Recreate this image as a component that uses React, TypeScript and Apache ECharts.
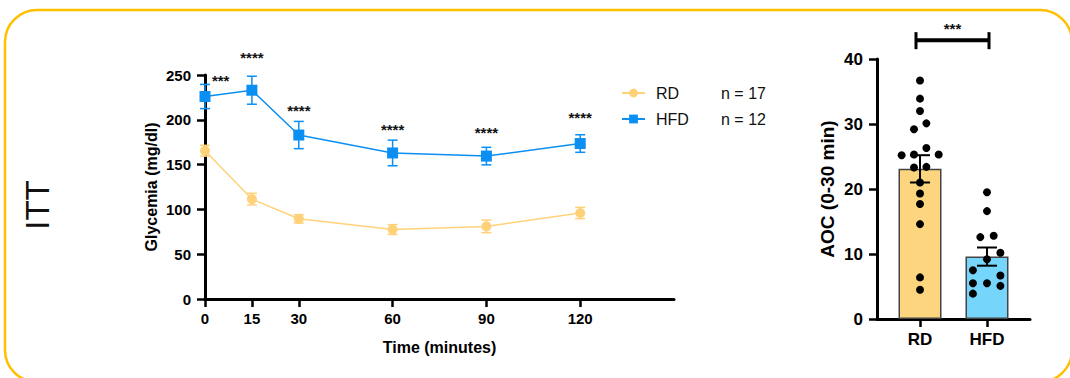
import React, { useEffect, useRef } from "react";
import * as echarts from "echarts";

// ---- ITT line chart data ----
const times = [0, 15, 30, 60, 90, 120];
const rdMean = [165.5, 111.5, 89.5, 77.5, 81, 96];
const rdSem = [6, 6.5, 4.7, 5.5, 7, 6.3];
const hfdMean = [226, 233, 183, 163, 159.5, 173.5];
const hfdSem = [13.5, 15.6, 15.2, 14.3, 9.8, 9.8];
const rdN = 17;
const hfdN = 12;
const starX = [5, 15, 30, 60, 90, 120];
const starY = [243.5, 269, 210.5, 189.5, 186, 202.5];
const starLabels = ["***", "****", "****", "****", "****", "****"];

// ---- AOC bar chart data ----
const barCategories = ["RD", "HFD"];
const barMeans = [23.1, 9.6];
const barSems = [2.1, 1.4];
const rdDots = [
  [0, 36.7], [0, 33.9], [0, 32.0], [0.095, 30.1], [-0.09, 29.2], [0.095, 26.3],
  [-0.274, 25.2], [-0.09, 25.3], [0.279, 25.3], [-0.09, 23.3], [0.095, 23.4],
  [0, 21.0], [0, 19.3], [0, 17.7], [0, 14.6], [0, 6.4], [0, 4.5],
];
const hfdDots = [
  [1, 19.5], [1, 16.6], [0.9, 12.6], [1.1, 12.8], [1.2, 10.2], [1, 9.2],
  [0.79, 7.5], [1.2, 6.7], [0.79, 5.5], [1, 5.5], [1.2, 5.1], [0.79, 3.9],
];
const barSig = "***";
const barSigLevel = 42.9;

const YELLOW = "#FFD27A";
const BLUE = "#0B8FF2";
const BAR_YELLOW = "#FDD57E";
const BAR_BLUE = "#76D5FB";
const FONT = "Liberation Sans, Arial, sans-serif";

function errRender(color: string, capHalf: number, lw: number) {
  return (params: any, api: any) => {
    const x = api.value(0);
    const m = api.value(1);
    const e = api.value(2);
    const t = api.coord([x, m + e]);
    const b = api.coord([x, m - e]);
    return {
      type: "group",
      children: [
        { type: "line", shape: { x1: t[0], y1: t[1], x2: b[0], y2: b[1] }, style: { stroke: color, lineWidth: lw } },
        { type: "line", shape: { x1: t[0] - capHalf, y1: t[1], x2: t[0] + capHalf, y2: t[1] }, style: { stroke: color, lineWidth: lw } },
        { type: "line", shape: { x1: b[0] - capHalf, y1: b[1], x2: b[0] + capHalf, y2: b[1] }, style: { stroke: color, lineWidth: lw } },
      ],
    };
  };
}

export default function App() {
  const ref = useRef<HTMLDivElement>(null);
  useEffect(() => {
    document.body.style.margin = "0";
    const chart = echarts.init(ref.current!, null, { renderer: "svg" });
    const axisLine = { show: true, onZero: false, lineStyle: { color: "#000", width: 3 } };
    const axisTick = { show: true, length: 8, lineStyle: { color: "#000", width: 2.5 } };
    chart.setOption({
      animation: false,
      backgroundColor: "#fff",
      textStyle: { fontFamily: FONT },
      graphic: [
        {
          type: "rect",
          shape: { x: 5, y: 10, width: 1067, height: 372, r: 32 },
          style: { fill: "none", stroke: "#FFC000", lineWidth: 2.5 },
          silent: true,
        },
        {
          type: "text",
          x: 37,
          y: 205,
          rotation: Math.PI / 2,
          style: { text: "ITT", fontSize: 33, fontFamily: FONT, fill: "#111", align: "center", verticalAlign: "middle" },
        },
      ],
      legend: {
        orient: "vertical",
        left: 616,
        top: 80,
        itemWidth: 23,
        itemHeight: 11,
        itemGap: 10,
        data: ["RD", "HFD"],
        formatter: (name: string) => `{n|${name}}{c|n = ${name === "RD" ? rdN : hfdN}}`,
        textStyle: {
          rich: {
            n: { fontSize: 16, fontFamily: FONT, color: "#111", width: 65, padding: [0, 0, 0, 6] },
            c: { fontSize: 16, fontFamily: FONT, color: "#111" },
          },
        },
      },
      grid: [
        { left: 205, top: 75, width: 469, height: 224 },
        { left: 877, top: 59, width: 153, height: 260 },
      ],
      xAxis: [
        {
          gridIndex: 0,
          type: "value",
          min: 0,
          max: 150,
          name: "Time (minutes)",
          nameLocation: "middle",
          nameGap: 40,
          nameTextStyle: { fontSize: 16, fontWeight: "bold", color: "#000", fontFamily: FONT },
          axisLine,
          axisTick: { ...axisTick, customValues: times },
          axisLabel: { customValues: times, fontSize: 15, fontWeight: "bold", color: "#000", margin: 12, fontFamily: FONT },
          splitLine: { show: false },
        },
        {
          gridIndex: 1,
          type: "value",
          min: -0.642,
          max: 1.642,
          axisLine,
          axisTick: { ...axisTick, customValues: [0, 1] },
          axisLabel: {
            customValues: [0, 1],
            formatter: (v: number) => barCategories[Math.round(v)],
            fontSize: 17,
            fontWeight: "bold",
            color: "#000",
            margin: 12,
            fontFamily: FONT,
          },
          splitLine: { show: false },
        },
      ],
      yAxis: [
        {
          gridIndex: 0,
          type: "value",
          min: 0,
          max: 250,
          interval: 50,
          name: "Glycemia (mg/dl)",
          nameLocation: "middle",
          nameGap: 46,
          nameTextStyle: { fontSize: 16, fontWeight: "bold", color: "#000", fontFamily: FONT },
          axisLine,
          axisTick,
          axisLabel: { fontSize: 15, fontWeight: "bold", color: "#000", margin: 14, fontFamily: FONT },
          splitLine: { show: false },
        },
        {
          gridIndex: 1,
          type: "value",
          min: 0,
          max: 40,
          interval: 10,
          name: "AOC (0-30 min)",
          nameLocation: "middle",
          nameGap: 40,
          nameTextStyle: { fontSize: 19, fontWeight: "bold", color: "#000", fontFamily: FONT },
          axisLine,
          axisTick,
          axisLabel: { fontSize: 17, fontWeight: "bold", color: "#000", margin: 14, fontFamily: FONT },
          splitLine: { show: false },
        },
      ],
      series: [
        {
          type: "custom",
          xAxisIndex: 0,
          yAxisIndex: 0,
          renderItem: errRender(YELLOW, 5, 1.5),
          data: times.map((t, i) => [t, rdMean[i], rdSem[i]]),
          z: 1,
          silent: true,
        },
        {
          type: "custom",
          xAxisIndex: 0,
          yAxisIndex: 0,
          renderItem: errRender(BLUE, 5, 1.5),
          data: times.map((t, i) => [t, hfdMean[i], hfdSem[i]]),
          z: 1,
          silent: true,
        },
        {
          name: "RD",
          type: "line",
          xAxisIndex: 0,
          yAxisIndex: 0,
          data: times.map((t, i) => [t, rdMean[i]]),
          symbol: "circle",
          symbolSize: 10,
          itemStyle: { color: YELLOW },
          lineStyle: { color: YELLOW, width: 1.5 },
          z: 3,
        },
        {
          name: "HFD",
          type: "line",
          xAxisIndex: 0,
          yAxisIndex: 0,
          data: times.map((t, i) => [t, hfdMean[i]]),
          symbol: "rect",
          symbolSize: 11,
          itemStyle: { color: BLUE },
          lineStyle: { color: BLUE, width: 1.5 },
          z: 3,
        },
        {
          type: "custom",
          xAxisIndex: 0,
          yAxisIndex: 0,
          clip: false,
          silent: true,
          renderItem: (params: any, api: any) => {
            const p = api.coord([api.value(0), api.value(1)]);
            return {
              type: "text",
              x: p[0],
              y: p[1],
              style: {
                text: starLabels[params.dataIndex],
                fontSize: 15,
                fontWeight: "bold",
                fontFamily: FONT,
                fill: "#111",
                align: "center",
                verticalAlign: "middle",
              },
            };
          },
          data: starX.map((x, i) => [x, starY[i]]),
        },
        {
          type: "bar",
          xAxisIndex: 1,
          yAxisIndex: 1,
          barWidth: 43,
          data: barMeans.map((m, i) => ({
            value: [i, m],
            itemStyle: { color: i === 0 ? BAR_YELLOW : BAR_BLUE, borderColor: "#444", borderWidth: 1.5 },
          })),
          z: 1,
        },
        {
          type: "scatter",
          xAxisIndex: 1,
          yAxisIndex: 1,
          symbolSize: 8,
          itemStyle: { color: "#000", opacity: 1 },
          data: [...rdDots, ...hfdDots],
          z: 3,
        },
        {
          type: "custom",
          xAxisIndex: 1,
          yAxisIndex: 1,
          renderItem: errRender("#000", 10, 2),
          data: barMeans.map((m, i) => [i, m, barSems[i]]),
          z: 4,
          silent: true,
        },
        {
          type: "custom",
          xAxisIndex: 1,
          yAxisIndex: 1,
          clip: false,
          silent: true,
          renderItem: (params: any, api: any) => {
            const a = api.coord([api.value(0), api.value(2)]);
            const b = api.coord([api.value(1), api.value(2)]);
            return {
              type: "group",
              children: [
                { type: "line", shape: { x1: a[0], y1: a[1], x2: b[0], y2: b[1] }, style: { stroke: "#000", lineWidth: 4 } },
                { type: "line", shape: { x1: a[0], y1: a[1] - 8, x2: a[0], y2: a[1] + 9 }, style: { stroke: "#000", lineWidth: 3 } },
                { type: "line", shape: { x1: b[0], y1: b[1] - 8, x2: b[0], y2: b[1] + 9 }, style: { stroke: "#000", lineWidth: 3 } },
                {
                  type: "text",
                  x: (a[0] + b[0]) / 2,
                  y: a[1] - 12,
                  style: { text: barSig, fontSize: 15, fontWeight: "bold", fontFamily: FONT, fill: "#111", align: "center", verticalAlign: "middle" },
                },
              ],
            };
          },
          data: [[-0.06, 1.03, barSigLevel]],
        },
      ],
    });
    return () => chart.dispose();
  }, []);
  return <div ref={ref} style={{ width: 1070, height: 378 }} />;
}
